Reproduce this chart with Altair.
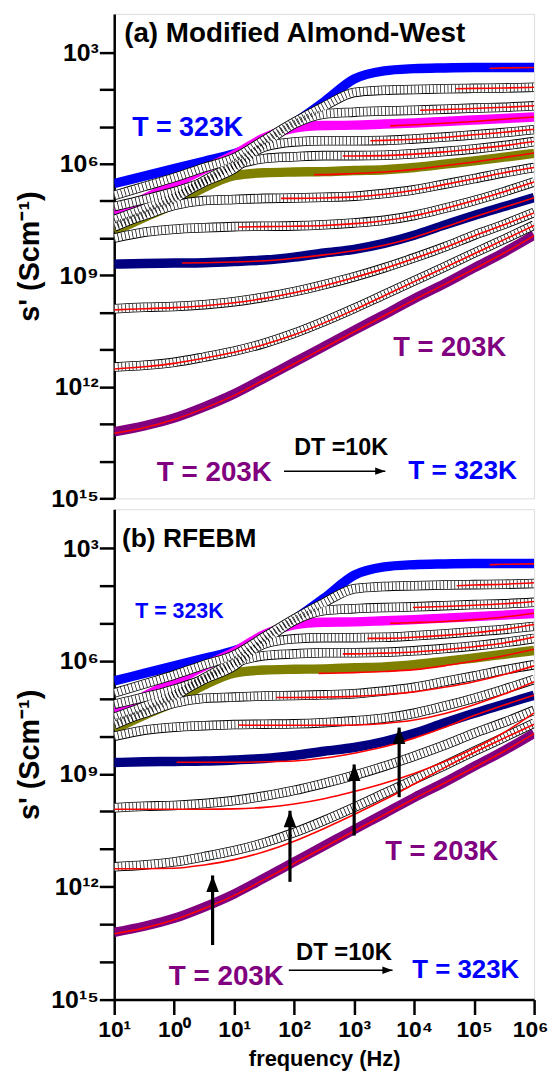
import altair as alt
import pandas as pd

FONT = "Liberation Sans"

# ---------------- frequency grid (log10 Hz) ----------------
logF = [-1, -0.5, 0, 0.5, 1, 1.5, 2, 2.5, 3, 3.5, 4, 4.5, 5, 5.5, 6]

s323 = [-6.53, -6.33, -6.13, -5.93, -5.73, -5.40, -4.90, -4.33, -3.72, -3.50, -3.44, -3.42, -3.41, -3.41, -3.41]
s313 = [-6.85, -6.61, -6.37, -6.10, -5.84, -5.36, -4.88, -4.45, -4.08, -4.02, -4.00, -3.98, -3.97, -3.96, -3.94]
s303 = [-7.15, -6.96, -6.75, -6.48, -6.13, -5.47, -4.93, -4.66, -4.61, -4.58, -4.56, -4.53, -4.50, -4.48, -4.44]
s293 = [-7.34, -6.94, -6.55, -6.14, -5.76, -5.30, -5.04, -4.97, -4.96, -4.93, -4.90, -4.86, -4.82, -4.78, -4.74]
s283 = [-7.50, -7.21, -6.89, -6.49, -6.00, -5.55, -5.41, -5.38, -5.38, -5.37, -5.33, -5.28, -5.22, -5.16, -5.08]
s273 = [-7.70, -7.35, -6.95, -6.45, -6.05, -5.86, -5.81, -5.78, -5.78, -5.77, -5.73, -5.67, -5.60, -5.51, -5.40]
s263 = [-7.81, -7.44, -7.09, -6.64, -6.32, -6.24, -6.22, -6.21, -6.18, -6.16, -6.10, -6.01, -5.92, -5.82, -5.72]
s253 = [-7.65, -7.39, -7.12, -6.99, -6.96, -6.93, -6.92, -6.90, -6.87, -6.80, -6.70, -6.55, -6.40, -6.24, -6.10]
s243 = [-8.00, -7.84, -7.76, -7.72, -7.69, -7.68, -7.67, -7.64, -7.59, -7.52, -7.39, -7.20, -6.99, -6.75, -6.49]
s233 = [-8.70, -8.68, -8.67, -8.66, -8.63, -8.59, -8.51, -8.40, -8.30, -8.14, -7.92, -7.65, -7.39, -7.15, -6.91]
s223 = [-9.90, -9.86, -9.84, -9.79, -9.71, -9.59, -9.44, -9.25, -9.04, -8.80, -8.53, -8.24, -7.92, -7.63, -7.31]
s213 = [-11.47, -11.42, -11.34, -11.20, -11.04, -10.83, -10.56, -10.24, -9.89, -9.52, -9.15, -8.78, -8.40, -8.03, -7.65]
s203 = [-13.21, -13.05, -12.84, -12.54, -12.19, -11.77, -11.34, -10.91, -10.48, -10.06, -9.63, -9.23, -8.80, -8.38, -7.92]

temps = [323, 313, 303, 293, 283, 273, 263, 253, 243, 233, 223, 213, 203]
series = [s323, s313, s303, s293, s283, s273, s263, s253, s243, s233, s223, s213, s203]
filled_T = [323, 293, 263, 233, 203]
filled_col = ["#0000ff", "#ff00ff", "#808000", "#000080", "#800080"]

# ---------------- fits: (log10 f, log10 sigma) ----------------
# (a) Modified Almond-West
fa323 = ([5.26, 5.5, 6.0], [-3.43, -3.42, -3.41])
fa313 = ([4.7, 5, 5.5, 6], [-3.98, -3.97, -3.96, -3.94])
fa303 = ([4.1, 4.5, 5, 5.5, 6], [-4.56, -4.54, -4.51, -4.48, -4.44])
fa293 = ([3.6, 4, 4.5, 5, 5.5, 6], [-4.98, -4.95, -4.91, -4.86, -4.80, -4.74])
fa283 = ([3.27, 3.5, 4, 4.5, 5, 5.5, 6], [-5.38, -5.37, -5.34, -5.29, -5.22, -5.15, -5.07])
fa273 = ([2.81, 3, 3.5, 4, 4.5, 5, 5.5, 6], [-5.79, -5.79, -5.78, -5.74, -5.68, -5.60, -5.51, -5.40])
fa263 = ([2.33, 2.5, 3, 3.5, 4, 4.5, 5, 5.5, 6], [-6.29, -6.29, -6.26, -6.22, -6.15, -6.05, -5.95, -5.83, -5.71])
fa253 = ([1.78, 2, 2.5, 3, 3.5, 4, 4.5, 5, 5.5, 6], [-6.93, -6.93, -6.92, -6.89, -6.82, -6.71, -6.56, -6.40, -6.24, -6.10])
fa243 = ([1.07, 1.5, 2, 2.5, 3, 3.5, 4, 4.5, 5, 5.5, 6], [-7.70, -7.69, -7.68, -7.66, -7.61, -7.53, -7.40, -7.21, -6.99, -6.75, -6.49])
fa233 = ([0.13, 0.5, 1, 1.5, 2, 2.5, 3, 3.5, 4, 4.5, 5, 5.5, 6], [-8.67, -8.66, -8.64, -8.61, -8.54, -8.45, -8.34, -8.19, -7.98, -7.71, -7.43, -7.17, -6.91])
fa223 = (logF, [-9.93, -9.90, -9.87, -9.82, -9.74, -9.62, -9.47, -9.28, -9.06, -8.82, -8.55, -8.26, -7.94, -7.64, -7.32])
fa213 = (logF, [-11.52, -11.46, -11.37, -11.23, -11.07, -10.86, -10.60, -10.28, -9.93, -9.55, -9.17, -8.80, -8.42, -8.04, -7.66])
fa203 = (logF, [-13.25, -13.10, -12.88, -12.58, -12.23, -11.81, -11.38, -10.95, -10.52, -10.09, -9.66, -9.25, -8.83, -8.40, -7.93])

# (b) RFEBM
fb323 = ([5.26, 5.5, 6.0], [-3.44, -3.43, -3.42])
fb313 = ([4.71, 5, 5.5, 6], [-4.00, -3.98, -3.96, -3.92])
fb303 = ([3.98, 4.5, 5, 5.5, 6], [-4.58, -4.55, -4.52, -4.48, -4.42])
fb293 = ([3.6, 4, 4.5, 5, 5.5, 6], [-5.00, -4.98, -4.95, -4.90, -4.83, -4.73])
fb283 = ([3.22, 3.5, 4, 4.5, 5, 5.5, 6], [-5.40, -5.40, -5.37, -5.32, -5.25, -5.16, -5.03])
fb273 = ([2.81, 3, 3.5, 4, 4.5, 5, 5.5, 6], [-5.81, -5.81, -5.79, -5.76, -5.70, -5.62, -5.52, -5.36])
fb263 = ([2.41, 3, 3.5, 4, 4.5, 5, 5.5, 6], [-6.33, -6.31, -6.28, -6.23, -6.13, -6.00, -5.86, -5.69])
fb253 = ([1.70, 2, 2.5, 3, 3.5, 4, 4.5, 5, 5.5, 6], [-6.97, -6.97, -6.96, -6.94, -6.89, -6.82, -6.70, -6.55, -6.36, -6.13])
fb243 = ([1.07, 1.5, 2, 2.5, 3, 3.5, 4, 4.5, 5, 5.5, 6], [-7.70, -7.71, -7.71, -7.71, -7.70, -7.66, -7.57, -7.40, -7.16, -6.88, -6.55])
fb233 = ([0.04, 0.5, 1, 1.5, 2, 2.5, 3, 3.5, 4, 4.5, 5, 5.5, 6], [-8.69, -8.69, -8.69, -8.68, -8.66, -8.58, -8.45, -8.28, -8.05, -7.77, -7.45, -7.17, -6.91])
fb223 = (logF, [-9.94, -9.94, -9.94, -9.94, -9.93, -9.89, -9.80, -9.66, -9.47, -9.25, -8.99, -8.68, -8.32, -7.90, -7.38])
fb213 = (logF, [-11.52, -11.52, -11.51, -11.42, -11.28, -11.07, -10.79, -10.45, -10.08, -9.69, -9.27, -8.84, -8.43, -8.05, -7.68])
fb203 = (logF, [-13.25, -13.10, -12.88, -12.58, -12.23, -11.81, -11.38, -10.95, -10.52, -10.09, -9.66, -9.25, -8.83, -8.40, -7.93])

fits_a = [fa323, fa313, fa303, fa293, fa283, fa273, fa263, fa253, fa243, fa233, fa223, fa213, fa203]
fits_b = [fb323, fb313, fb303, fb293, fb283, fb273, fb263, fb253, fb243, fb233, fb223, fb213, fb203]

# ---------------- annotations ----------------
# panel (a)
ta_text = ["(a) Modified Almond-West", "T = 323K", "T = 203K", "T = 203K", "DT =10K", "T = 323K"]
ta_logf = [-0.834, -0.70, 3.65, -0.29, 2.0, 3.90]
ta_lg = [-2.71, -5.24, -11.17, -14.54, -13.84, -14.47]
ta_col = ["black", "#0000ff", "#800080", "#800080", "black", "#0000ff"]
ta_size = [28, 27, 27.5, 28, 23.5, 26.5]
# panel (b)
tb_text = ["(b) RFEBM", "T = 323K", "T = 203K", "T = 203K", "DT =10K", "T = 323K"]
tb_logf = [-0.87, -0.65, 3.52, -0.09, 2.03, 3.97]
tb_lg = [-2.98, -4.87, -11.30, -14.60, -13.94, -14.43]
tb_col = ["black", "#0000ff", "#800080", "#800080", "black", "#0000ff"]
tb_size = [26.5, 21.5, 27.5, 28, 24, 26]

# horizontal "DT" arrows: start logf, end logf, level
harrow_a = ([1.83], [3.52], [-14.27])
harrow_b = ([1.91], [3.64], [-14.22])
# vertical arrows in (b)
varrow_logf = [0.64, 1.93, 3.0, 3.75]
varrow_base = [-13.55, -11.87, -10.64, -9.62]
varrow_tip = [-11.70, -9.98, -8.75, -7.77]

# ---------------- tables ----------------
rows = []
for T, arr in zip(temps, series):
    for lf, lg in zip(logF, arr):
        rows.append({"T": str(T), "f": 10 ** lf, "s": 10 ** lg,
                     "kind": "filled" if T in filled_T else "open"})
df = pd.DataFrame(rows)


def fit_df(fits):
    r = []
    for T, (lfs, lgs) in zip(temps, fits):
        for lf, lg in zip(lfs, lgs):
            r.append({"T": str(T), "f": 10 ** lf, "s": 10 ** lg})
    return pd.DataFrame(r)


def text_df(texts, lfs, lgs, cols, sizes):
    return pd.DataFrame({"t": texts, "f": [10 ** v for v in lfs], "s": [10 ** v for v in lgs],
                         "c": cols, "z": sizes})


xs = alt.Scale(type="log", domain=[0.1, 1e6], nice=False)
ys = alt.Scale(type="log", domain=[1e-15, 0.0108], nice=False)

y_exps = [3, 6, 9, 12, 15]
y_lbls = ["10³", "10⁶", "10⁹", "10¹²", "10¹⁵"]
x_exps = [-1, 0, 1, 2, 3, 4, 5, 6]
x_lbls = ["10¹", "10⁰", "10¹", "10²", "10³", "10⁴", "10⁵", "10⁶"]

y_expr = "".join(f"abs(log(datum.value)/LN10 + {e}) < 0.01 ? '{t}' : " for e, t in zip(y_exps, y_lbls)) + "''"
x_expr = "".join(f"abs(log(datum.value)/LN10 - ({e})) < 0.01 ? '{t}' : " for e, t in zip(x_exps, x_lbls)) + "''"

yaxis = alt.Axis(values=[10 ** (-k) for k in range(3, 16)], labelExpr=y_expr, tickSize=15, tickWidth=2.5,
                 tickColor="black", domainColor="black", domainWidth=2.5, labelFont=FONT, labelFontSize=25,
                 labelFontWeight="bold", labelColor="black", labelPadding=1, labelFlush=False,
                 labelOverlap=False, grid=False, title="s' (Scm⁻¹)", titleFont=FONT, titleFontSize=29,
                 titleFontWeight="bold", titleColor="black", titlePadding=6)
xaxis_b = alt.Axis(values=[10 ** k for k in x_exps], labelExpr=x_expr, tickSize=15, tickWidth=2.5,
                   tickColor="black", domainColor="black", domainWidth=2.5, labelFont=FONT, labelFontSize=23,
                   labelFontWeight="bold", labelColor="black", labelPadding=4, labelFlush=False,
                   labelOffset={"condition": {"test": "datum.value > 500000", "value": -4}, "value": 0},
                   labelOverlap=False, grid=False, title="frequency (Hz)", titleFont=FONT, titleFontSize=22,
                   titleFontWeight="bold", titleColor="black", titlePadding=7)


def panel(fits, txt, harrow, xaxis, height, varrows=False):
    X = alt.X("f:Q", scale=xs, axis=xaxis)
    Y = alt.Y("s:Q", scale=ys, axis=yaxis)
    base = alt.Chart(df).encode(x=X, y=Y, detail="T:N")
    filled = base.transform_filter(alt.datum.kind == "filled").mark_line(
        strokeWidth=9.5, interpolate="monotone", clip=True).encode(
        color=alt.Color("T:N", scale=alt.Scale(domain=[str(t) for t in filled_T], range=filled_col), legend=None))
    op = base.transform_filter(alt.datum.kind == "open")
    o1 = op.mark_line(strokeWidth=9.6, color="black", interpolate="monotone", clip=True)
    o2 = op.mark_line(strokeWidth=7.9, color="white", interpolate="monotone", clip=True)
    o3 = op.mark_line(strokeWidth=7.9, color="black", strokeDash=[0.7, 3.0], interpolate="monotone", clip=True)
    fit = alt.Chart(fit_df(fits)).mark_line(color="#ff0000", strokeWidth=1.6, interpolate="monotone",
                                            clip=True).encode(x=X, y=Y, detail="T:N")
    tdf = text_df(*txt)
    texts = alt.Chart(tdf).mark_text(align="left", baseline="alphabetic", font=FONT, fontWeight="bold").encode(
        x=X, y=Y, text="t:N", color=alt.Color("c:N", scale=None), size=alt.Size("z:Q", scale=None))
    hdf = pd.DataFrame({"f": [10 ** v for v in harrow[0]], "f2": [10 ** v for v in harrow[1]],
                        "s": [10 ** v for v in harrow[2]]})
    hline = alt.Chart(hdf).mark_rule(color="black", strokeWidth=1.5).encode(x=X, x2="f2:Q", y=Y)
    hhead = alt.Chart(hdf).mark_point(shape="M0,0L-1,-0.36L-1,0.36Z", filled=True, color="black", opacity=1,
                                      size=420, strokeWidth=0).encode(x=alt.X("f2:Q", scale=xs, axis=xaxis), y=Y)
    layers = [filled, o1, o2, o3, fit, texts, hline, hhead]
    if varrows:
        vdf = pd.DataFrame({"f": [10 ** v for v in varrow_logf], "s": [10 ** v for v in varrow_base],
                            "s2": [10 ** v for v in varrow_tip]})
        vline = alt.Chart(vdf).mark_rule(color="black", strokeWidth=3.2).encode(x=X, y=Y, y2="s2:Q")
        vhead = alt.Chart(vdf).mark_point(shape="M0,0L0.38,1L-0.38,1Z", filled=True, color="black", opacity=1,
                                          size=1100, strokeWidth=0).encode(x=X, y=alt.Y("s2:Q", scale=ys, axis=yaxis))
        layers += [vline, vhead]
    return alt.layer(*layers).properties(width=423, height=height)


pa = panel(fits_a, (ta_text, ta_logf, ta_lg, ta_col, ta_size), harrow_a, None, 488)
pb = panel(fits_b, (tb_text, tb_logf, tb_lg, tb_col, tb_size), harrow_b, xaxis_b, 494, varrows=True)

chart = alt.vconcat(pa, pb, spacing=11, bounds="flush").properties(
    padding={"left": 7, "top": 1, "right": 0, "bottom": 0}
).configure_view(stroke="black", strokeWidth=2.5).configure(background="white")

chart.save("out.html", embed_options={"renderer": "svg", "actions": False})
